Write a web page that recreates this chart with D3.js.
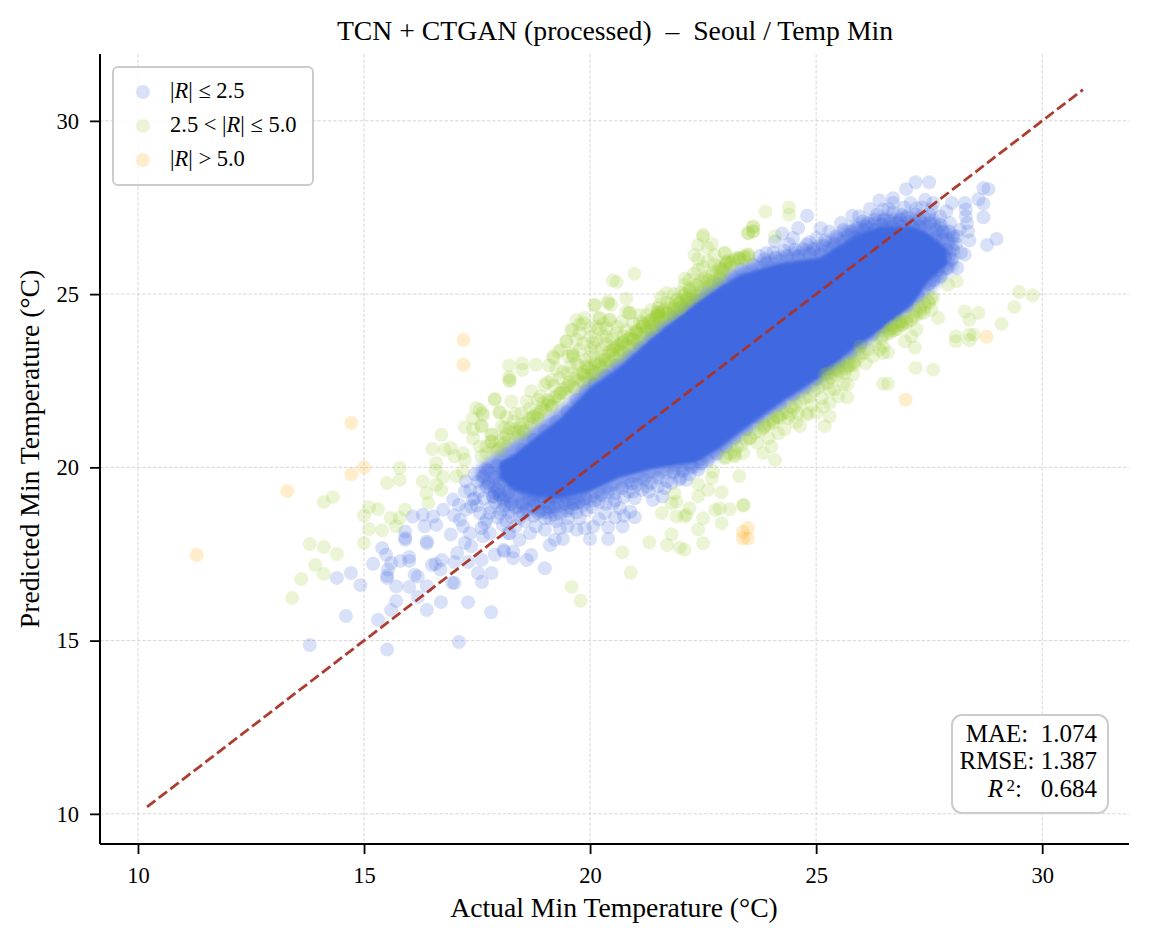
<!DOCTYPE html>
<html>
<head>
<meta charset="utf-8">
<script src="https://cdn.jsdelivr.net/npm/d3@7"></script>
<style>
  html, body { margin: 0; padding: 0; background: #fff; }
  svg { display: block; }
  text { font-family: "Liberation Serif", serif; fill: #000; }
</style>
</head>
<body>
<svg id="chart"></svg>
<script>
const xTicks = [10, 15, 20, 25, 30]
const yTicks = [10, 15, 20, 25, 30]
const titleText = "TCN + CTGAN (processed)  \u2013  Seoul / Temp Min"
const xLabel = "Actual Min Temperature (\u00b0C)"
const yLabel = "Predicted Min Temperature (\u00b0C)"
const identityLine = [10.2, 30.9]

// the middle of the cloud is thousands of overlapping dots and reads as solid blue,
// so it is two outlines (solid part and its paler rim), not single points
const coreActual = [18, 18.3, 18.82, 19.33, 20, 20.65, 21.38, 22.35, 22.86, 23.3, 24.2, 25.08, 25.8, 26.4, 27.13, 27.5, 27.9]
const coreLow = [19.7, 19.35, 19.15, 19.1, 19.3, 19.7, 19.95, 20.15, 20.55, 21, 21.85, 22.6, 23.4, 23.95, 24.7, 25.4, 25.85]
const coreHigh = [20.15, 20.35, 20.9, 21.4, 22.3, 22.9, 23.75, 24.75, 25.2, 25.55, 25.9, 26.05, 26.65, 26.95, 26.95, 26.75, 26.3]
const rimActual = [17.5, 18, 18.5, 19, 19.5, 20, 20.65, 21.38, 22.35, 22.86, 23.3, 24.2, 25.08, 25.8, 26.4, 27.13, 27.6, 28.1]
const rimLow = [19.6, 18.95, 18.65, 18.6, 18.7, 18.95, 19.35, 19.65, 19.9, 20.3, 20.8, 21.65, 22.4, 23.15, 23.8, 24.55, 25.15, 25.8]
const rimHigh = [20, 20.5, 20.95, 21.4, 21.9, 22.6, 23.15, 24, 25, 25.45, 25.8, 26.2, 26.5, 27.05, 27.3, 27.35, 27.3, 26.7]

// |R| <= 2.5, lower left tail
const blueTail = [[17.1,14.96],[13.8,14.87],[15.51,14.74],[17.81,15.82],[17.3,16.11],[16.7,16.11],[16.39,15.88],[15.31,15.6],[14.6,15.71],[15.6,15.88],[15.71,16.14],[16.19,16.26],[14.92,16.6],[14.4,16.81],[14.71,16.95],[15.2,17.22],[15.71,16.57],[16,16.55],[16.39,16.57],[15.51,16.81],[15.51,16.87],[15.53,17.05],[15.6,17.24],[15.49,17.48],[15.4,17.67],[15.8,17.3],[16,17.41],[16,17.3],[16.12,16.9],[16.19,16.85],[16.5,17.18],[16.58,17.21],[16.72,17.33],[16.69,17.05],[17,17.27],[16.95,16.67],[17,16.66],[17.3,17.27],[17.52,16.95],[17.82,16.95],[17.61,16.69],[17.89,17.48],[18.1,17.58],[17.6,17.33],[17.23,17.82],[17.06,17.53],[17.37,17.72],[16.39,17.8],[16.39,17.86],[15.91,17.91],[15.91,17.96],[15.91,18.15],[16.92,18.06],[17.19,18.3],[17.12,18.49],[16.08,18.58],[16.3,18.63],[16.34,18.3],[16.53,18.58],[16.6,18.34],[16.75,18.78],[16.99,18.61],[17.1,18.92],[17.23,19.3],[16.97,19.07],[17.41,19.07],[17.45,19.11],[17.37,18.87],[17.67,18.39],[17.71,18.49],[17.78,18.68],[17.89,19.26],[17.96,19.35],[17.85,19.16],[17.52,19.59],[17.63,19.74],[17.26,18.78],[17.56,18.68],[18.07,18.78],[18.15,19.16],[17.34,18.1],[17.63,18.01],[18.07,18.34],[18.19,18.1]]

// |R| <= 2.5, loose dots under the solid band
const blueLower = [[19,17.09],[18.3,17.57],[18.3,17.38],[18.7,17.47],[18.6,17.33],[18.08,17.62],[19.11,17.76],[19.22,17.91],[19.4,17.93],[20,17.93],[20.4,17.93],[20.07,18.29],[20.4,18.27],[20.72,18.29],[20.99,18.56],[20.89,18.72],[19.77,18.53],[19.88,18.24],[19.11,18.53],[19.22,18.63],[19,18.53],[19.33,18.24],[19.51,18.53],[18.52,18.68],[18.67,18.1],[18.44,17.91],[18.22,18.1],[20.33,18.68],[20.51,18.96],[20.66,18.82],[19.59,18.82],[19.92,18.77],[21.39,19.06],[20.99,19.11],[21.6,19.16],[21.25,19.45],[20.92,19.54],[21.98,19.64],[22.13,19.64],[22.46,20.12],[22.39,19.93],[17.85,19.16],[18.08,19.06],[17.71,19.45],[18,18.68],[18.26,18.58],[17.78,18.1],[18.85,18.68],[19.07,18.96],[18.74,19.06],
[18.2,19.3],[18.3,19.5],[18.45,19.2],[18.5,18.95],[18.6,19.3],[18.75,19.2],[18.9,19],[19,19.25],[19.15,19.15],[19.3,19],[19.45,18.95],[19.6,19.1],[19.75,19],[19.9,19.1],[20.1,19.05],[20.25,19.2],[20.4,19.3],[20.55,19.25],[20.7,19.4],[20.85,19.3],[21.05,19.5],[21.2,19.65],[21.35,19.55],[21.5,19.7],[21.7,19.6],[21.85,19.85],[22.05,19.9],[22.25,20],[22.6,20.2],[22.8,20.4],[23,20.6],[23.2,20.85],[23.45,21.1],[23.7,21.45],[23.95,21.7],[24.2,21.8],[24.5,22.1],[24.75,22.3],[25,22.55],[25.25,22.85],[25.5,23.05],[25.75,23.3],[26,23.6],[26.25,23.85],[26.5,24.05],[26.75,24.4],[27,24.65],[27.25,24.95],[27.5,25.3],
[18.4,19.75],[18.55,19.55],[18.7,19.5],[18.85,19.4],[19.05,19.45],[19.2,19.3],[19.4,19.35],[19.55,19.25],[19.8,19.3],[17.9,19.7],[18.05,19.85],[17.75,19.9],[18,19.55],[18.15,20.05],[18.3,20.2],[17.95,20.05],[17.7,19.95],
[17.25,19.6],[17.35,19.35],[17.45,19.8],[17.55,19.3],[17.65,19.1],[17.75,19.55],[17.9,19],[18,19.2],[18.1,18.9],[18.2,18.7],[18.35,18.85],[18.45,18.55],[18.6,18.8],[18.75,18.6],[18.9,18.75],[19.05,18.7],[19.2,18.85],[19.35,18.65],[19.5,18.75],[19.7,18.7],[19.85,18.9],[20.05,18.85],[20.2,19],[20.35,18.95],[20.55,19.05],[20.75,19.15],[20.95,19.3],[21.15,19.35],[21.3,19.3],[21.5,19.45],[21.65,19.4],[21.8,19.55],[22,19.7],[22.2,19.8],[18.25,18.95],[18.5,19.4],[18.65,19.05],[18.8,18.95],[18.95,19.15],[19.1,18.85],[19.25,19.15],[19.45,19.15],[19.65,18.95],[17.8,18.85],[17.95,18.55],[18.15,18.45],[17.5,18.9],[17.6,18.25],[18.35,18.3],[18.55,18.45],[18.8,18.3],[19,18.2],[19.25,18.45],[19.5,18.3],[19.7,18.2],[20.2,18.5],[20.55,18.55],[20.75,18.6]]

// |R| <= 2.5, fringe along the top of the band
const blueUpper = [[18.5,20.5],[18.75,20.8],[19,21.05],[19.25,21.3],[19.5,21.6],[19.7,21.95],[19.9,22.2],[20.1,22.4],[20.35,22.65],[20.6,22.95],[20.85,23.2],[21.1,23.45],[21.35,23.75],[21.6,24.05],[21.85,24.3],[22.1,24.55],[22.35,24.8],[22.6,25.05],[22.85,25.3],[23.1,25.55],[23.35,25.7],[23.6,25.85],[23.85,26],[24.1,26.05],[24.35,26.1],[24.6,26.1],[24.85,26.15],[25.1,26.15],[25.35,26.3],[25.6,26.5],
[27.5,28.23],[27.2,28.23],[26.99,28.03],[28.81,28.03],[28.7,28.06],[28.59,27.74],[28.7,27.61],[28.7,27.22],[28.29,27.63],[28.31,27.44],[28.31,27.24],[28.34,27.05],[28.36,26.81],[28.39,26.55],[28.29,26.14],[28.99,26.59],[28.78,26.42],[28.12,25.75],[24.8,27.26],[24.6,26.91],[24.09,26.52],[24.49,26.62],[25.8,27.26],[25.29,26.81],[25.45,26.67],[25.01,26.62],[24.79,26.43],[24.53,26.28],[23.9,26.19],[23.9,25.9],[26.4,27.7],[26.7,27.77],[26.7,27.63],[26.19,27.46],[26.48,27.44],[26.7,27.36],[27.09,27.63],[27.41,27.72],[27.22,27.48],[27.59,27.63],[28,27.63],[27.88,27.39],[27.96,27.05],[27.52,27.05],[26.89,27.29],[26.3,27.15],[26.04,27.1],[25.78,26.81],[26,26.71],[26.3,26.86],[26.63,27.1],[27,27.24],[27.29,27.15],[27.74,27.24],[28.03,26.67],[27.81,26.57],[28.18,26.86],[27.74,26.19],[27.88,26.28],[27.52,25.61],[28.03,26.28],[28.11,26.67],[27.66,26.86],
[25.9,26.9],[26.1,26.95],[26.45,27],[26.8,27.05],[27.1,27],[27.4,26.95],[27.65,26.65],[27.85,26.05],[27.7,25.7],[27.6,25.4],[27.45,26.45],[27.6,26.2],[27.3,26.95],[26.2,26.75],[26.55,26.9],[26.9,26.95],[25.15,26.4],[25.4,26.45],[24.95,26.3],[24.7,26.3],[24.3,26.25],[24.05,26.2],[23.75,26.1],[25.7,26.7],[25.95,26.6],
[24.4,26.45],[24.85,26.5],[25.2,26.55],[25.6,26.85],[26.15,27.05],[26.5,27.15],[26.85,27.15],[27.2,27.3],[27.5,27.3],[27.75,27],[27.95,26.8],[28.1,26.45],[28.2,26.2],[28,26],[27.9,25.75],[27.75,25.5],[27.55,27.45],[26.95,27.5],[26.6,27.45],[25.95,27.25],[25.55,27.05],[25.1,26.9],[24.25,26.75],[27.35,27.5],[27.8,26.8],[26.35,27.3],[26.05,26.85],[25.85,26.65],[26.7,26.95],[27.15,26.9]]

// 2.5 < |R| <= 5, above the band
const greenUpper = [[17.48,21.71],[17.62,21.57],[17.41,21.42],[17.23,21.16],[17.41,21.1],[17.6,21.2],[16.71,20.94],[17.41,20.84],[17.82,20.94],[18,21.58],[17.89,21.95],[18.11,21.13],[16.51,20.53],[16.78,20.51],[16.92,20.56],[17.19,20.41],[17,20.32],[17.23,20.22],[17.71,20.6],[17.82,20.75],[17.6,20.32],[17.96,20.51],[16.6,20.12],[16.58,19.91],[16.3,19.59],[16.75,19.72],[17.04,19.74],[17.19,19.88],[16.38,19.26],[16.71,19.35],[16.42,18.97],[16.6,19.5],[15.79,19.98],[15.79,19.64],[15.51,19.55],[14.31,19.14],[14.11,19],[15.11,18.85],[15.31,18.8],[15,18.61],[15.91,18.78],[15.59,18.54],[15.79,18.54],[15.71,18.3],[15.11,18.22],[15.4,18.18],[15,17.82],[13.8,17.79],[14.11,17.7],[14.4,17.5],[13.92,17.18],[14.11,16.92],[13.61,16.78],[13.41,16.23],
[18.21,22.94],[18.5,23],[18.5,22.81],[18.8,22.96],[19.09,22.94],[18.22,22.52],[18.22,22.49],[18.21,22.6],[19.2,23.15],[19.62,23.2],[19.48,23.63],[19.61,23.96],[19.85,24.16],[19.7,24.25],[20.1,24.69],[20.2,24.3],[20.4,24.73],[20.44,24.25],[20.8,24.49],[20.88,24.45],[21.1,24.4],[21.5,24.49],[21.5,24.45],[22,24.59],[22.13,24.83],[21.54,24.69],[17.89,21.97],[18,21.59],[18.26,21.9],[17.56,21.66],[17.63,21.51],[17.6,21.18],[17.82,20.94],[17.82,20.74],[18.04,21.18],[17.56,20.6],[17.71,20.41],[17.85,20.55],
[18,20.55],[18.11,20.7],[18.22,21.13],[18.3,21.32],[18.41,21.03],[18.48,21.56],[18.52,21.03],[18.67,21.7],[18.74,21.46],[18.85,21.51],[18.96,21.85],[19.07,21.95],[19.15,21.75],[18.99,22.38],[19.15,22.52],[19.33,22.57],[19.51,22.71],[19.33,22.14],[19.48,22.28],[19.66,22.28],[19.51,23.2],[19.77,23.39],[19.92,22.91],[20,23.2],[19.85,22.67],[20.07,22.76],[20.21,23],[20.4,23.1],[20.51,23.39],[20.73,23.58],[20.66,23.34],[20.88,23.72],[21.03,23.87],[21.17,24.06],[21.32,24.16],[21.47,24.35],[20.14,23.68],[20.29,23.77],[20,23.77],[19.85,23.58],[19.7,23.68],[20.14,24.06],[20.36,24.01],[20.58,23.87],[20.8,23.96],[19.77,23.87],[20,24.01],
[23.88,27.38],[23.6,26.93],[23.6,26.81],[23.49,26.76],[22.5,26.71],[22.5,26.66],[22.39,26.42],[22.7,26.45],[22.6,26.33],[22.31,26.13],[22.39,26],[22.75,26.13],[22.98,26.18],[22.39,25.7],[20.98,25.59],[20.5,25.39],[20.59,25.35],[22.19,25.41],[22.09,25.27],[22.2,25.17],[22.46,25.41],[21.69,25.03],[21.57,24.91],[20.8,24.87],[20.4,24.79],[20.47,24.69],[20.1,24.67],[21.87,24.64],[21.5,24.6],[21.52,24.45],[21.54,24.4],[20.87,24.47],[20.21,24.31],[20.43,24.26],[19.88,24.31],[19.77,24.12],[19.58,23.97],[19.47,23.64],[19.18,23.2],[19.36,23.39],[19.62,23.3],[22.87,25.8],[23.01,25.94],[23.31,26.04],[23.49,26.13],[23.16,25.94],[22.87,25.46],[22.72,25.37],[22.94,25.6],[22.13,24.84],[21.98,24.74],[22.27,24.93],[21.76,24.45],[21.35,24.07],[21.02,23.92],[20.65,23.54],[21.17,24.16],[21.39,24.26],[20.95,23.68],[20.73,23.78],[20.5,23.49],[20.36,23.78],[20.06,23.59],[20.03,23.39],[19.62,23.25],
[24.4,27.5],[24.4,27.29],[23.61,26.96],[23.5,26.76],[23.61,26.81],[24.09,26.67],[22.98,26.19],[23.24,26.04],[23.5,26.07],[22.94,25.7],[23.09,25.8],[23.31,25.99],[23.42,26.04],[22.87,25.51],[23.02,25.9],
[18.7,22.2],[18.9,22.05],[19.05,22.45],[19.25,22.85],[19.4,22.75],[19.3,23.35],[19.55,22.9],[19.7,23],[19.9,23.1],[19.75,22.95],[20.1,23.45],[20.25,23.4],[20.35,23.55],[20.5,23.7],[20.6,24.05],[20.2,24],[20.3,24.15],[20.7,24.2],[20.95,24.15],[21.1,24.2],[21.25,24.4],[21.35,24.55],[21.7,24.75],[21.85,25],[22,25.05],[22.1,25.45],[22.3,25.6],[22.5,25.8],[22.6,25.95],[22.75,25.85],[19.2,22.35],[18.85,21.95],[18.6,21.9],[18.35,21.55],[18.15,21.45]]

// 2.5 < |R| <= 5, the saturated stripe right on top of the band
const greenStripeUpper = [[18,20.75],[18.1,20.85],[18.15,20.95],[18.2,20.8],[18.3,21],[18.35,21.1],[18.4,20.9],[18.45,21.15],[18.5,21.25],[18.55,21.05],[18.6,21.3],[18.65,21.4],[18.7,21.25],[18.75,21.45],[18.8,21.55],[18.85,21.4],[18.9,21.6],[18.95,21.7],[19,21.65],[19.05,21.8],[19.1,21.9],[19.15,21.8],[19.2,22],[19.25,22.05],[19.3,21.95],[19.35,22.15],[19.4,22.25],[19.45,22.15],[19.5,22.35],[19.55,22.45],[19.6,22.35],[19.65,22.55],[19.7,22.6],[19.75,22.5],[19.8,22.7],[19.85,22.75],[19.9,22.65],[19.95,22.85],[20,22.9],[20.05,22.8],[20.1,23],[20.15,23.05],[20.2,22.95],[20.25,23.1],[20.3,23.2],[20.35,23.1],[20.4,23.3],[20.45,23.35],[20.5,23.25],[20.55,23.45],[20.6,23.5],[20.65,23.4],[20.7,23.6],[20.75,23.65],[20.8,23.55],[20.85,23.7],[20.9,23.8],[20.95,23.7],[21,23.9],[21.05,23.95],[21.1,23.85],[21.15,24.05],[21.2,24.1],[21.25,24],[21.3,24.2],[21.35,24.25],[21.4,24.15],[21.45,24.35],[21.5,24.4],[21.55,24.3],[21.6,24.5],[21.65,24.55],[21.7,24.45],[21.75,24.6],[21.8,24.7],[21.85,24.6],[21.9,24.8],[21.95,24.85],[22,24.75],[22.05,24.95],[22.1,25],[22.15,24.9],[22.2,25.1],[22.25,25.15],[22.3,25.05],[22.35,25.25],[22.4,25.3],[22.5,25.35],[22.55,25.45],[22.6,25.4],[22.65,25.5],[22.7,25.6],[22.8,25.65],[22.85,25.75],[22.9,25.7],[23,25.85],[23.05,25.95],[23.1,25.9],[23.2,26],[23.3,26.05],[23.4,26.1],[23.5,26.15],
[19.85,22.45],[19.95,22.55],[20.05,22.65],[20.15,22.7],[20.25,22.85],[20.35,22.95],[20.45,23.05],[20.55,23.15],[20.65,23.2],[20.75,23.3],[20.85,23.45],[20.95,23.5],[21.05,23.65],[21.15,23.75],[21.25,23.9],[21.35,23.95],[21.45,24.05],[21.55,24.2],[21.65,24.3],[21.75,24.35],[21.85,24.45],[21.95,24.55],[22.05,24.65],[22.15,24.75],[22.25,24.85],[22.35,24.95],[22.45,25.05],[22.55,25.15],[22.65,25.25],[22.75,25.35]]

// 2.5 < |R| <= 5, below the band
const greenLower = [[29.79,24.96],[29.49,25.06],[29.38,24.63],[29.1,24.14],[28.59,24.46],[28.29,24.5],[28.39,24.26],[28.09,23.78],[28.09,23.64],[28.39,23.67],[28.49,23.83],[28.39,23.83],[27.7,24.31],[28.11,25.37],[27.92,25.27],[27.59,22.82],[27.2,22.87],[26.48,22.41],[26.59,22.41],[27.18,23.46],[27.22,23.97],[26.96,23.64],[27.11,23.78],[26.59,23.32],[26.48,23.3],[26.48,23.49],[27.55,24.55],[27.38,24.46],[27.59,24.89],[27.48,24.79],[27.29,24.55],[27,24.17],[26.89,24.12],[26.74,23.97],[26.63,23.88],[27.15,24.36],[26.89,24.21],[26.7,24.07],[25.97,23.3],[25.82,23.01],[25.71,22.92],[25.56,22.92],[25.97,23.49],[25.69,22.39],[25.69,22.02],[25.49,22.05],[25.3,22.24],[25.82,22.68],[25.64,22.72],[25.41,22.82],[25.19,22.68],[25.27,22.72],[25.12,22],[25.3,21.86],[25.3,21.47],[25.19,21.19],[25.01,21.57],[24.82,21.57],[24.79,21.52],[24.42,21.52],[24.38,21.43],[24.05,21.33],[24.64,21.19],[24.2,21.43],[23.87,21.19],
[20.9,16.96],[20.71,17.55],[21.31,17.84],[21.7,17.76],[21.8,18.07],[21.98,17.69],[22.09,17.62],[22.5,17.81],[22.39,18.21],[22.5,18.53],[22.91,18.39],[21.59,18.68],[21.91,18.58],[22.09,18.58],[22.13,18.63],[22.2,18.82],[21.8,18.96],[21.91,19.01],[21.87,19.25],[22.39,19.16],[22.61,19.35],[22.91,19.28],[22.39,19.51],[22.69,19.69],[22.72,19.88],[22.77,18.77],[22.87,18.82],[23.09,18.79],[23.39,18.92],[23.39,18.89],[23.3,19.75],[22.98,20.26],[23.2,20.36],[23.2,20.31],[23.39,20.41],[23.53,20.84],[23.83,20.41],[24.01,20.6],[24.09,20.21],[23.83,21.13],[24.05,21.27],[24.16,20.98],[24.16,21.46],[19.59,16.55],[19.79,16.15],
[24.6,21.55],[24.9,21.8],[25.15,21.75],[24.5,21.7],[25.4,22.25],[25.6,22.4],[25.85,22.95],[26.1,23],[26.25,23.2],[26.4,23.4],[24.3,21.1],[24.55,21.3],[23.7,20.7],[23.95,20.85]]

// 2.5 < |R| <= 5, stripe along the underside of the band
const greenStripeLower = [[23,20.3],[23.1,20.4],[23.2,20.45],[23.25,20.6],[23.35,20.65],[23.45,20.8],[23.55,20.85],[23.65,21],[23.75,21.05],[23.85,21.2],[23.95,21.25],[24.05,21.4],[24.15,21.45],[24.25,21.55],[24.35,21.6],[24.45,21.75],[24.55,21.8],[24.65,21.9],[24.75,22],[24.85,22.05],[24.95,22.2],[25.05,22.3],[25.15,22.4],[25.25,22.45],[25.35,22.6],[25.45,22.65],[25.55,22.75],[25.65,22.85],[25.75,22.95],[25.85,23.05],[25.95,23.2],[26.05,23.3],[26.15,23.4],[26.3,23.55],[26.45,23.7],[26.55,23.85],[26.7,23.95],[26.8,24],[26.9,24.1],[27,24.2],[27.1,24.25],[27.2,24.35],[27.3,24.45],[27.4,24.6],[27.5,24.75],[27.55,24.9],
[25.3,22.6],[25.5,22.8],[25.7,23.05],[26.45,23.8],[26.6,23.95],[26.8,24.1],[27,24.3],[27.2,24.5],[27.4,24.7],[26.65,24],[26.85,24.2],[27.3,24.65]]

// |R| > 5
const orangeAll = [[14.72,21.28],[15,20],[14.72,19.8],[13.3,19.32],[11.3,17.47],[17.2,23.68],[17.2,22.96],[26.98,21.95],[28.77,23.77],[23.49,18.25],[23.38,18.14],[23.38,17.95],[23.49,17.95]]

const svgWidth = 1149
const svgHeight = 943
const margin = ({top: 54, right: 20, bottom: 99, left: 100})
const width = svgWidth - margin.left - margin.right
const height = svgHeight - margin.top - margin.bottom

const svg = d3.select("#chart").attr("width", svgWidth).attr("height", svgHeight)

const defs = svg.append("defs")
defs.append("filter").attr("id", "softCore").append("feGaussianBlur").attr("stdDeviation", 1.5)
defs.append("filter").attr("id", "softRim").append("feGaussianBlur").attr("stdDeviation", 3)

const xScale = d3.scaleLinear().domain([9.16, 31.92]).range([0, width])
const yScale = d3.scaleLinear().domain([9.13, 31.93]).range([height, 0])

const plot = svg.append("g").attr("transform", `translate(${margin.left}, ${margin.top})`)

// grid
plot.append("g").selectAll("line").data(xTicks).join("line")
    .attr("x1", d => xScale(d)).attr("x2", d => xScale(d))
    .attr("y1", 0).attr("y2", height)
    .attr("stroke", "#cccccc").attr("stroke-width", 0.8).attr("stroke-dasharray", "3.5 1.8")
plot.append("g").selectAll("line").data(yTicks).join("line")
    .attr("y1", d => yScale(d)).attr("y2", d => yScale(d))
    .attr("x1", 0).attr("x2", width)
    .attr("stroke", "#cccccc").attr("stroke-width", 0.8).attr("stroke-dasharray", "3.5 1.8")

const blueColor = "#4169e1"
const greenColor = "#9acd32"
const orangeColor = "#ffa500"

function drawDots(points, color) {
    plot.append("g").selectAll("circle").data(points).join("circle")
        .attr("cx", d => xScale(d[0]))
        .attr("cy", d => yScale(d[1]))
        .attr("r", 7)
        .attr("fill", color)
        .attr("fill-opacity", 0.2)
}

function drawBand(xs, lows, highs, opacity, filterId) {
    const band = d3.area()
        .x((d, i) => xScale(xs[i]))
        .y0((d, i) => yScale(lows[i]))
        .y1((d, i) => yScale(highs[i]))
    plot.append("path").attr("d", band(xs))
        .attr("fill", blueColor).attr("fill-opacity", opacity).attr("filter", `url(#${filterId})`)
}

drawDots(blueTail, blueColor)
drawDots(blueLower, blueColor)
drawDots(blueUpper, blueColor)
drawBand(rimActual, rimLow, rimHigh, 0.65, "softRim")
drawBand(coreActual, coreLow, coreHigh, 1, "softCore")

drawDots(greenUpper, greenColor)
drawDots(greenStripeUpper, greenColor)
drawDots(greenLower, greenColor)
drawDots(greenStripeLower, greenColor)
drawDots(orangeAll, orangeColor)

// identity line
plot.append("line")
    .attr("x1", xScale(identityLine[0])).attr("y1", yScale(identityLine[0]))
    .attr("x2", xScale(identityLine[1])).attr("y2", yScale(identityLine[1]))
    .attr("stroke", "#a93226").attr("stroke-opacity", 0.95)
    .attr("stroke-width", 2.8).attr("stroke-dasharray", "10.5 4.2")

// axes
const xAxis = plot.append("g")
    .attr("transform", `translate(0, ${height})`)
    .call(d3.axisBottom(xScale).tickValues(xTicks).tickSize(10).tickPadding(13).tickFormat(d3.format("d")))
const yAxis = plot.append("g")
    .call(d3.axisLeft(yScale).tickValues(yTicks).tickSize(10).tickPadding(11).tickFormat(d3.format("d")))
for (const axis of [xAxis, yAxis]) {
    axis.selectAll("path").attr("stroke", "#000").attr("stroke-width", 2)
    axis.selectAll("line").attr("stroke", "#000").attr("stroke-width", 1.8)
    axis.selectAll("text").style("font-family", '"Liberation Serif", serif').style("font-size", "22.5px")
}
xAxis.select("path").attr("d", `M0,0H${width}`)
yAxis.select("path").attr("d", `M0,0V${height}`)

// titles
svg.append("text").attr("x", 615).attr("y", 40).attr("text-anchor", "middle")
    .attr("font-size", "27.7px").style("white-space", "pre").text(titleText)
svg.append("text").attr("x", 614).attr("y", 917).attr("text-anchor", "middle")
    .attr("font-size", "27.7px").text(xLabel)
svg.append("text").attr("transform", "translate(39, 449) rotate(-90)").attr("text-anchor", "middle")
    .attr("font-size", "27.7px").text(yLabel)

// legend
svg.append("rect").attr("x", 113).attr("y", 67).attr("width", 200).attr("height", 118).attr("rx", 5)
    .attr("fill", "#fff").attr("fill-opacity", 0.8).attr("stroke", "#cccccc").attr("stroke-width", 2)

const legendRows = [
    {color: blueColor, y: 91, parts: [["|"], ["R", 1], ["|\u2005\u2264\u20052.5"]]},
    {color: greenColor, y: 125, parts: [["2.5\u2005<\u2005|"], ["R", 1], ["|\u2005\u2264\u20055.0"]]},
    {color: orangeColor, y: 159, parts: [["|"], ["R", 1], ["|\u2005>\u20055.0"]]}
]
legendRows.forEach(row => {
    svg.append("circle").attr("cx", 143).attr("cy", row.y + 1).attr("r", 7)
        .attr("fill", row.color).attr("fill-opacity", 0.2)
    const t = svg.append("text").attr("x", 170).attr("y", row.y + 7).attr("font-size", "22.5px")
    row.parts.forEach(p => t.append("tspan").attr("font-style", p[1] ? "italic" : "normal").text(p[0]))
})

// metrics box
svg.append("rect").attr("x", 952).attr("y", 715).attr("width", 156).attr("height", 98).attr("rx", 10)
    .attr("fill", "#fff").attr("fill-opacity", 0.85).attr("stroke", "#cccccc").attr("stroke-width", 2)
const metricNames = ["MAE:  ", "RMSE: ", "R"]
const metricValues = ["1.074", "1.387", "0.684"]
metricNames.forEach((name, i) => {
    const t = svg.append("text").attr("x", 1097).attr("y", 741.5 + i * 27.5).attr("text-anchor", "end")
        .attr("font-size", "25px").style("white-space", "pre")
    if (name === "R") {
        t.append("tspan").attr("font-style", "italic").text("R")
        t.append("tspan").attr("font-size", "17px").attr("dy", -5.5).text("\u20092")
        t.append("tspan").attr("dy", 5.5).text(":   " + metricValues[i])
    } else {
        t.text(name + metricValues[i])
    }
})
</script>
</body>
</html>
